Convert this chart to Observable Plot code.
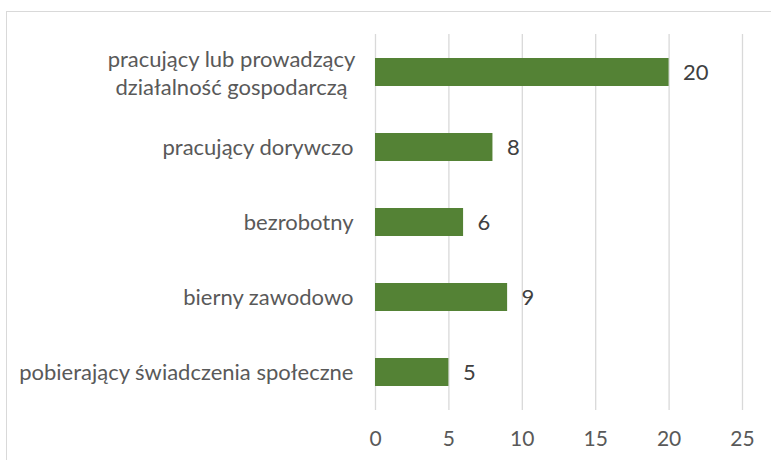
<!DOCTYPE html>
<html><head><meta charset="utf-8">
<script src="https://cdn.jsdelivr.net/npm/d3@7"></script>
<script src="https://cdn.jsdelivr.net/npm/@observablehq/plot@0.6"></script>
<style>
html,body{margin:0;padding:0;background:#fff;overflow:hidden}
#wrap{position:relative;width:771px;height:460px}
#frame{position:absolute;left:6px;top:11px;width:800px;height:500px;border:1.5px solid #d9d9d9;box-sizing:border-box}
#chart{position:absolute;left:0;top:0}
</style></head><body>
<div id="wrap"><div id="frame"></div><div id="chart"></div></div>
<script>
const categories = ["pracujący lub prowadzący\ndziałalność gospodarczą", "pracujący dorywczo", "bezrobotny", "bierny zawodowo", "pobierający świadczenia społeczne"];
const values = [20, 8, 6, 9, 5];
const xTicks = [0, 5, 10, 15, 20, 25];

const data = categories.map((c, i) => ({category: c, value: values[i], multi: c.includes("\n")}));
const font = "Lato, sans-serif";

const chart = Plot.plot({
  width: 771, height: 460,
  marginLeft: 375, marginRight: 29, marginTop: 34, marginBottom: 50,
  style: {fontFamily: font, background: "transparent"},
  x: {domain: [0, 25], ticks: xTicks},
  y: {domain: categories, paddingInner: 0.63, paddingOuter: 0.315, axis: null},
  marks: [
    Plot.gridX(xTicks, {stroke: "#d9d9d9", strokeOpacity: 1, strokeWidth: 1.3}),
    Plot.axisX(xTicks, {tickSize: 0, tickPadding: 21, fontSize: 21, fill: "#595959", label: null}),
    Plot.barX(data, {x: "value", y: "category", fill: "#548235"}),
    Plot.text(data, {x: "value", y: "category", text: d => String(d.value), textAnchor: "start", dx: 14, fontSize: 22, fill: "#404040"}),
    Plot.text(data.filter(d => !d.multi), {x: 0, y: "category", text: "category", textAnchor: "end", dx: -22, fontSize: 22, fill: "#595959"}),
    Plot.text(data.filter(d => d.multi), {x: 0, y: "category", text: "category", textAnchor: "middle", dx: -144, lineHeight: 1.27, fontSize: 22, fill: "#595959"})
  ]
});
document.getElementById("chart").append(chart);
</script></body></html>
